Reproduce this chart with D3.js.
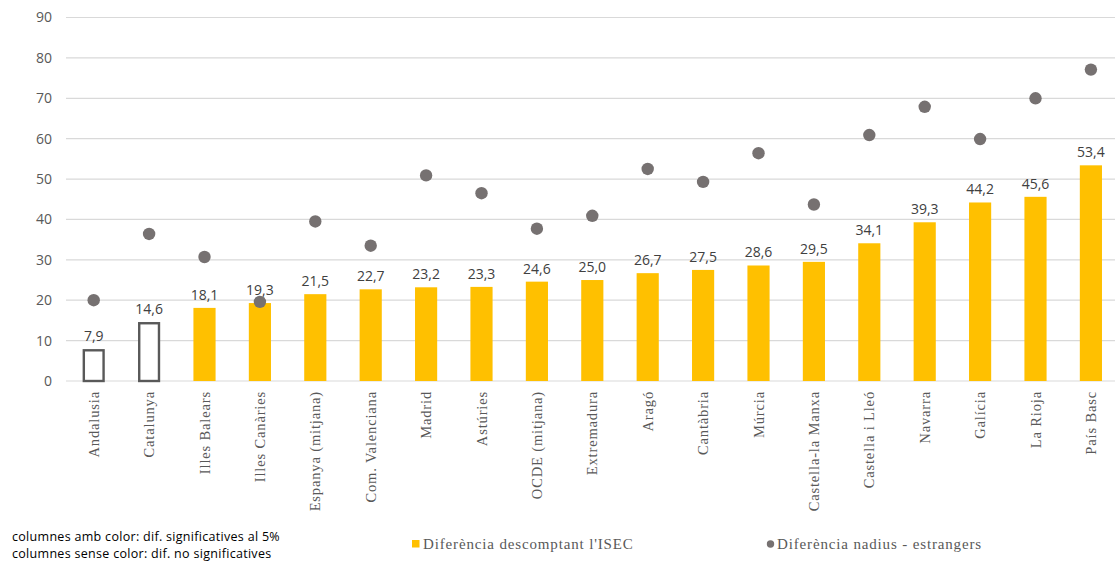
<!DOCTYPE html>
<html><head><meta charset="utf-8">
<script src="https://cdn.jsdelivr.net/npm/d3@7"></script>
<style>body{margin:0;background:#fff}svg{display:block}</style>
</head><body>
<svg id="c" width="1115" height="561"></svg>
<script>
const categories = ["Andalusia","Catalunya","Illes Balears","Illes Canàries","Espanya (mitjana)","Com. Valenciana","Madrid","Astúries","OCDE (mitjana)","Extremadura","Aragó","Cantàbria","Múrcia","Castella-la Manxa","Castella i Lleó","Navarra","Galícia","La Rioja","País Basc"];
const isecDiff = [7.9,14.6,18.1,19.3,21.5,22.7,23.2,23.3,24.6,25.0,26.7,27.5,28.6,29.5,34.1,39.3,44.2,45.6,53.4];
const significant = [false,false,true,true,true,true,true,true,true,true,true,true,true,true,true,true,true,true,true];
const nativeForeignDiff = [20.0,36.4,30.7,19.6,39.5,33.5,50.9,46.5,37.7,40.9,52.5,49.3,56.4,43.7,60.9,67.9,59.9,70.0,77.1];
const yTicks = [0,10,20,30,40,50,60,70,80,90];
const seriesNames = ["Diferència descomptant l'ISEC","Diferència nadius - estrangers"];
const notes = ["columnes amb color: dif. significatives al 5%","columnes sense color: dif. no significatives"];

const svg = d3.select("#c");
const mLeft = 66, mRight = 1118.6, mTop = 17.5, mBottom = 381;
const x = d3.scaleBand().domain(categories).range([mLeft, mRight]).paddingInner(0.6).paddingOuter(0.3);
const y = d3.scaleLinear().domain([0,90]).range([mBottom, mTop]);
const fmt = v => d3.format(".1f")(v).replace(".", ",");

// gridlines
svg.append("g").selectAll("line").data(yTicks).join("line")
  .attr("x1", mLeft).attr("x2", 1115)
  .attr("y1", d => y(d)).attr("y2", d => y(d))
  .attr("stroke", "#d9d9d9").attr("stroke-width", 1.2);

// y axis labels
const yAxis = d3.axisLeft(y).tickValues(yTicks).tickSize(0).tickPadding(14).tickFormat(d3.format("d"));
const ga = svg.append("g").attr("transform", `translate(${mLeft},0)`).call(yAxis);
ga.select(".domain").remove();
ga.selectAll("text").attr("font-family", "'Open Sans', sans-serif").attr("font-size", 14).attr("fill", "#595959");

// bars
const bw = x.bandwidth();
svg.append("g").selectAll("rect").data(categories).join("rect")
  .attr("x", (d,i) => significant[i] ? x(d) : x(d) + 1.2)
  .attr("width", (d,i) => significant[i] ? bw : bw - 2.4)
  .attr("y", (d,i) => y(isecDiff[i]) + (significant[i] ? 0 : 1.2))
  .attr("height", (d,i) => y(0) - y(isecDiff[i]) - (significant[i] ? 0 : 1.2))
  .attr("fill", (d,i) => significant[i] ? "#ffc000" : "#ffffff")
  .attr("stroke", (d,i) => significant[i] ? "none" : "#595959")
  .attr("stroke-width", 2.4);

// bar labels
svg.append("g").selectAll("text").data(categories).join("text")
  .attr("x", d => x(d) + bw/2)
  .attr("y", (d,i) => y(isecDiff[i]) - 8)
  .attr("text-anchor", "middle")
  .attr("font-family", "'Open Sans', sans-serif").attr("font-size", 14)
  .attr("fill", "#404040")
  .text((d,i) => fmt(isecDiff[i]));

// dots
svg.append("g").selectAll("circle").data(categories).join("circle")
  .attr("cx", d => x(d) + bw/2)
  .attr("cy", (d,i) => y(nativeForeignDiff[i]))
  .attr("r", 6.2)
  .attr("fill", "#767171");

// category labels
svg.append("g").selectAll("text").data(categories).join("text")
  .attr("transform", d => `translate(${x(d) + bw/2},391) rotate(-90)`)
  .attr("text-anchor", "end").attr("dy", "0.35em")
  .attr("font-family", "'Liberation Serif', serif").attr("font-size", 14.5)
  .attr("letter-spacing", 0.85)
  .attr("fill", "#595959")
  .text(d => d);

// notes
svg.append("g").selectAll("text").data(notes).join("text")
  .attr("x", 12).attr("y", (d,i) => 541 + i*17)
  .attr("font-family", "'Open Sans', sans-serif").attr("font-size", 12.5)
  .attr("letter-spacing", 0.3)
  .attr("fill", "#000")
  .text(d => d);

// legend
const lg = svg.append("g");
lg.append("rect").attr("x", 412).attr("y", 540).attr("width", 7.5).attr("height", 7.5).attr("fill", "#ffc000");
lg.append("text").attr("x", 423).attr("y", 549).attr("font-family", "'Liberation Serif', serif").attr("font-size", 15).attr("letter-spacing", 0.85).attr("fill", "#595959").text(seriesNames[0]);
lg.append("circle").attr("cx", 770.5).attr("cy", 544).attr("r", 3.7).attr("fill", "#767171");
lg.append("text").attr("x", 777).attr("y", 549).attr("font-family", "'Liberation Serif', serif").attr("font-size", 15).attr("letter-spacing", 0.85).attr("fill", "#595959").text(seriesNames[1]);
</script>
</body></html>
